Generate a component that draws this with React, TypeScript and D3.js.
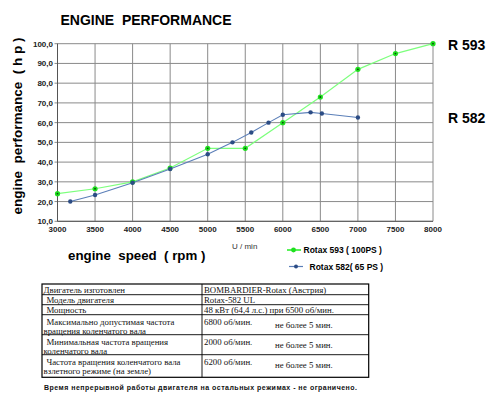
import React from 'react';
import * as d3 from 'd3';

const rpm593 = [3000, 3500, 4000, 4500, 5000, 5500, 6000, 6500, 7000, 7500, 8000];
const hp593 = [24, 26.5, 30, 37, 47, 47, 60, 73, 87, 95, 100];
const rpm582 = [3170, 3500, 4000, 4500, 5000, 5330, 5580, 5810, 6000, 6370, 6520, 7000];
const hp582 = [20, 23.3, 29.5, 36.5, 44, 50, 55, 60, 64, 65.2, 64.6, 62.6];

const xTicks = [3000, 3500, 4000, 4500, 5000, 5500, 6000, 6500, 7000, 7500, 8000];
const yTicks = [10, 20, 30, 40, 50, 60, 70, 80, 90, 100];

// table rows: [col1 lines, col2 main, col2 note]; a leading space means an indent
const tableRows = [
  [['Двигатель изготовлен'], 'BOMBARDIER-Rotax (Австрия)', ''],
  [[' Модель двигателя'], 'Rotax-582 UL', ''],
  [[' Мощность'], '48 кВт (64,4 л.с.) при 6500 об/мин.', ''],
  [[' Максимально допустимая частота', 'вращения коленчатого вала'], '6800 об/мин.', 'не более 5 мин.'],
  [[' Минимальная частота вращения', 'коленчатого вала'], '2000 об/мин.', 'не более 5 мин.'],
  [[' Частота вращения коленчатого вала', 'взлетного режиме (на земле)'], '6200 об/мин.', 'не более 5 мин.'],
];
const rowEdges = [284, 294.7, 304.7, 314.7, 334.7, 354.7, 377.3];

const footer = 'Время непрерывной работы двигателя на остальных режимах - не ограничено.';

const App = () => {
  const x = d3.scaleLinear().domain([3000, 8000]).range([57.5, 433]);
  const y = d3.scaleLinear().domain([10, 100]).range([221.3, 43.7]);

  const green = rpm593.map((r, i) => [x(r), y(hp593[i])] as [number, number]);
  const blue = rpm582.map((r, i) => [x(r), y(hp582[i])] as [number, number]);
  const line = d3.line();

  const sans = 'Arial, "Liberation Sans", sans-serif';
  const serif = '"Times New Roman", "Liberation Serif", serif';

  return (
    <svg width={500} height={398} style={{ position: 'absolute', left: 0, top: 0, background: '#fff' }}>
      <text x={146} y={25} textAnchor="middle" fontFamily={sans} fontWeight="bold" fontSize={14}
        style={{ whiteSpace: 'pre' }}>ENGINE  PERFORMANCE</text>

      {/* grid */}
      {xTicks.map(t => (
        <line key={'gx' + t} x1={x(t)} x2={x(t)} y1={y(100)} y2={y(10)} stroke="#8a8a8a" strokeWidth={1} />
      ))}
      {yTicks.map(t => (
        <line key={'gy' + t} x1={x(3000) - 3} x2={x(8000)} y1={y(t)} y2={y(t)} stroke="#8a8a8a" strokeWidth={1} />
      ))}
      <line x1={x(3000)} x2={x(3000)} y1={y(100)} y2={y(10)} stroke="#555" />
      <line x1={x(3000)} x2={x(8000)} y1={y(10)} y2={y(10)} stroke="#555" />

      {yTicks.map(t => (
        <text key={'ty' + t} x={53} y={y(t) + 3} textAnchor="end" fontFamily={sans} fontWeight="bold"
          fontSize={8} fill="#222">{t.toFixed(1).replace('.', ',')}</text>
      ))}
      {xTicks.map(t => (
        <text key={'tx' + t} x={x(t)} y={232} textAnchor="middle" fontFamily={sans} fontWeight="bold"
          fontSize={8} fill="#222">{t}</text>
      ))}

      {/* series */}
      <path d={line(green) || ''} fill="none" stroke="#7dff7d" strokeWidth={1.2} />
      {green.map((p, i) => (
        <g key={'g' + i}>
          <circle cx={p[0]} cy={p[1]} r={2.6} fill="#1fe01f" />
          <circle cx={p[0]} cy={p[1]} r={0.9} fill="#0a4a0a" />
        </g>
      ))}
      <path d={line(blue) || ''} fill="none" stroke="#5b7fb8" strokeWidth={1.1} />
      {blue.map((p, i) => (
        <circle key={'b' + i} cx={p[0]} cy={p[1]} r={2.2} fill="#2c4c84" />
      ))}

      {/* axis titles */}
      <text transform="translate(22,126) rotate(-90)" textAnchor="middle" fontFamily={sans} fontWeight="bold"
        fontSize={13.5} style={{ whiteSpace: 'pre' }}>engine  performance  ( h p )</text>
      <text x={68} y={260} fontFamily={sans} fontWeight="bold" fontSize={13.3}
        style={{ whiteSpace: 'pre' }}>engine  speed  ( rpm )</text>
      <text x={232} y={249} fontFamily={sans} fontSize={8} fill="#333">U / min</text>

      <text x={448} y={49.5} fontFamily={sans} fontWeight="bold" fontSize={14}>R 593</text>
      <text x={448} y={122.5} fontFamily={sans} fontWeight="bold" fontSize={14}>R 582</text>

      {/* legend */}
      <line x1={287} x2={301} y1={250} y2={250} stroke="#22ee22" strokeWidth={1.5} />
      <circle cx={293.5} cy={250} r={2.4} fill="#1fe01f" />
      <text x={303.5} y={253} fontFamily={sans} fontWeight="bold" fontSize={8.5} style={{ whiteSpace: 'pre' }}>Rotax 593 ( 100PS )</text>
      <line x1={289} x2={303} y1={266.5} y2={266.5} stroke="#5b7fb8" strokeWidth={1.2} />
      <circle cx={296} cy={266.5} r={2} fill="#2c4c84" />
      <text x={309.5} y={269.5} fontFamily={sans} fontWeight="bold" fontSize={8.5} style={{ whiteSpace: 'pre' }}>Rotax 582( 65 PS )</text>

      {/* table */}
      <rect x={42} y={284} width={326.7} height={93.3} fill="none" stroke="#000" strokeWidth={1.2} />
      {rowEdges.slice(1, -1).map(e => (
        <line key={'re' + e} x1={42} x2={368.7} y1={e} y2={e} stroke="#000" strokeWidth={0.9} />
      ))}
      <line x1={202} x2={202} y1={284} y2={377.3} stroke="#000" strokeWidth={0.9} />
      {tableRows.map((row, i) => {
        const top = rowEdges[i];
        const lines = row[0] as string[];
        const single = lines.length === 1;
        return (
          <g key={'tr' + i} fontFamily={serif} fontSize={8.8} fill="#111">
            {lines.map((l, j) => (
              <text key={j} x={l.startsWith(' ') ? 46.5 : 43.5} y={single ? top + 8.5 : top + 10 + j * 9.5}>{l.trim()}</text>
            ))}
            <text x={204} y={single ? top + 8.5 : top + 10}>{row[1] as string}</text>
            {row[2] ? <text x={275} y={top + 13.3}>{row[2] as string}</text> : null}
          </g>
        );
      })}

      <text x={44} y={389.5} fontFamily={sans} fontWeight="bold" fontSize={7} textLength={313}
        lengthAdjust="spacing" fill="#111">{footer}</text>
    </svg>
  );
};

export default App;
